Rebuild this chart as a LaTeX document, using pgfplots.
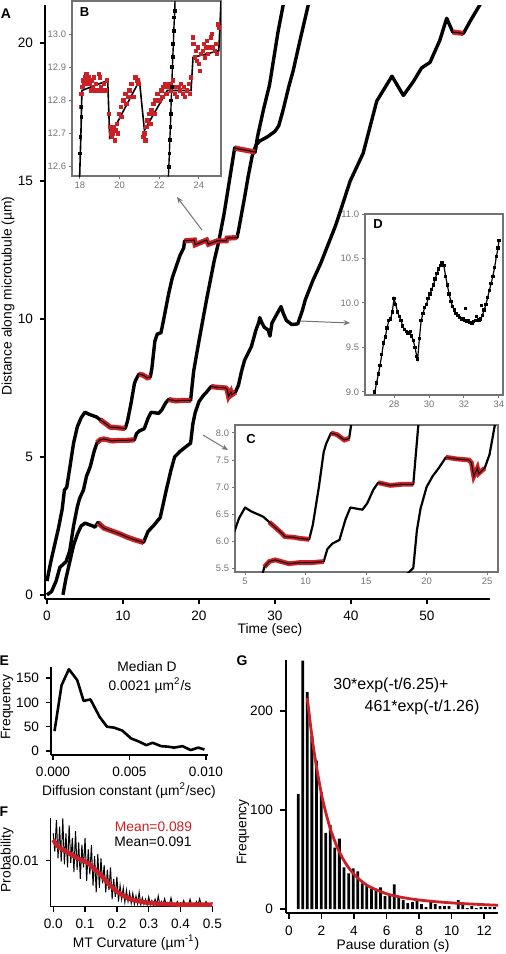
\documentclass[border=0pt]{standalone}
\usepackage{pgfplots}
\usepackage{pgfplotstable}
\pgfplotsset{compat=1.18}
\usepackage{fontspec}
\setmainfont{Liberation Sans}
\usetikzlibrary{arrows.meta}
\definecolor{myred}{RGB}{204,32,39}
\definecolor{igray}{RGB}{115,115,115}

\pgfplotstableread{
t y
0 0.5
0.5 1.2
1.0 1.8
1.5 2.4
2.0 3.1
2.3 3.8
2.6 3.9
3.0 4.6
3.5 5.5
4.0 6.1
4.5 6.42
5.0 6.62
5.5 6.55
6.0 6.5
6.5 6.45
7.0 6.35
7.5 6.25
8.0 6.15
8.3 6.08
9.0 6.07
9.5 6.05
10.3 6.03
10.6 6.3
11.1 7.0
11.5 7.65
11.7 7.8
12.1 8.0
12.6 7.97
13.2 7.87
13.6 7.9
13.8 8.2
14.2 9.2
14.5 9.45
15.0 9.5
15.3 9.9
16.0 10.9
16.5 11.5
17.0 11.9
17.5 12.3
18.0 12.58
18.1 12.83
19.4 12.86
19.5 12.69
21.0 12.86
21.25 12.71
22.4 12.83
23.6 12.83
23.7 12.93
25.0 12.95
25.2 13.2
25.6 13.8
26.0 14.4
26.5 15.2
27.0 15.9
27.5 16.3
28.0 16.45
29.0 16.6
30.0 16.8
30.5 17.0
31.1 17.6
31.8 18.4
32.4 19.0
33.3 20.1
34.4 21.4
35.0 22.1
}\trA

\pgfplotstableread{
t y
0 0
0.6 0.12
1.2 0.5
1.7 1.0
2.1 1.1
2.5 1.2
3.0 1.6
3.5 2.5
4.0 3.2
4.3 3.5
4.8 3.8
5.2 4.3
5.7 4.65
6.2 5.2
6.6 5.52
7.0 5.62
7.5 5.65
8.3 5.6
8.6 5.58
9.5 5.6
10.5 5.6
11.5 5.62
11.8 5.85
12.2 5.95
12.8 6.02
13.3 6.4
13.7 6.62
14.2 6.6
14.7 6.58
15.1 6.7
15.6 6.95
16.0 7.08
17.0 7.03
18.0 7.05
18.9 7.05
19.3 8.1
20.0 9.2
21.0 10.7
22.0 12.1
22.6 12.8
23.3 13.8
24.0 15.0
24.7 16.2
25.5 16.15
26.5 16.1
27.4 16.05
27.7 16.6
28.5 17.6
29.3 18.5
30.4 20.4
31.1 21.4
31.6 22.2
}\trB

\pgfplotstableread{
t y
2.1 0
2.5 0.6
3.0 1.2
3.5 1.8
4.0 2.2
4.5 2.5
5.0 2.6
5.5 2.55
6.0 2.5
6.3 2.45
6.7 2.62
7.5 2.42
8.5 2.32
9.5 2.22
10.5 2.1
11.5 2.0
12.7 1.9
13.0 2.1
13.3 2.3
14.0 2.5
14.9 2.8
15.7 3.8
16.3 4.5
16.8 5.0
17.5 5.2
18.2 5.35
18.9 5.5
19.2 6.2
19.5 6.6
20.0 7.0
20.5 7.2
21.0 7.35
21.6 7.55
22.5 7.52
23.5 7.5
23.7 7.45
23.9 7.2
24.2 7.35
24.3 7.25
24.8 7.35
25.2 7.6
25.6 8.1
26.0 8.5
26.9 9.0
27.2 9.3
27.5 9.6
27.9 9.9
28.0 10.05
28.3 9.85
28.6 9.7
29.1 9.6
29.35 9.38
29.6 9.85
30.2 10.15
30.8 10.45
31.1 10.2
31.5 9.95
32.2 9.8
33.0 9.82
33.6 10.3
34.0 10.7
35.0 11.4
36.0 12.0
37.0 12.7
38.0 13.4
38.6 13.9
39.9 15.0
41.6 16.0
43.4 17.9
45.4 18.8
46.9 18.1
48.2 18.6
49.3 19.1
50.4 19.3
51.7 20.1
52.6 20.9
53.4 20.4
54.8 20.35
55.7 20.8
57.0 21.4
57.5 21.7
}\trC

\pgfplotstableread{
t y
7.0 6.35
7.5 6.25
8.0 6.15
8.3 6.08
9.0 6.07
9.5 6.05
10.3 6.03
}\pAa
\pgfplotstableread{
t y
12.1 8.0
12.6 7.97
13.2 7.87
13.6 7.9
}\pAb
\pgfplotstableread{
t y
18.1 12.83
19.4 12.86
19.5 12.69
21.0 12.86
21.25 12.71
22.4 12.83
23.6 12.83
23.7 12.93
25.0 12.95
}\pAc
\pgfplotstableread{
t y
6.6 5.52
7.0 5.62
7.5 5.65
8.3 5.6
8.6 5.58
9.5 5.6
10.5 5.6
11.5 5.62
}\pBa
\pgfplotstableread{
t y
16.0 7.08
17.0 7.03
18.0 7.05
18.9 7.05
}\pBb
\pgfplotstableread{
t y
24.7 16.2
25.5 16.15
26.5 16.1
27.4 16.05
}\pBc
\pgfplotstableread{
t y
6.7 2.62
7.5 2.42
8.5 2.32
9.5 2.22
10.5 2.1
11.5 2.0
12.7 1.9
}\pCa
\pgfplotstableread{
t y
21.6 7.55
22.5 7.52
23.5 7.5
23.7 7.45
23.9 7.2
24.2 7.35
24.3 7.25
24.8 7.35
}\pCb
\pgfplotstableread{
t y
53.4 20.4
54.8 20.35
}\pCc

\pgfplotstableread{
t y
18.05 12.78
18.08 12.82
18.12 12.84
18.16 12.86
18.2 12.85
18.24 12.87
18.28 12.86
18.32 12.88
18.36 12.85
18.4 12.86
18.45 12.87
18.5 12.85
18.55 12.83
18.6 12.86
18.65 12.84
18.7 12.87
18.75 12.83
18.8 12.85
18.9 12.83
18.95 12.88
19.0 12.87
19.05 12.84
19.1 12.83
19.2 12.85
19.3 12.83
19.35 12.86
19.45 12.76
19.5 12.72
19.55 12.70
19.6 12.71
19.62 12.69
19.66 12.70
19.7 12.72
19.75 12.68
19.8 12.71
19.85 12.73
19.9 12.70
19.95 12.76
20.05 12.78
20.1 12.75
20.2 12.8
20.3 12.82
20.35 12.79
20.45 12.81
20.5 12.83
20.6 12.85
20.7 12.81
20.8 12.87
20.9 12.86
20.95 12.85
21.2 12.69
21.25 12.70
21.3 12.68
21.35 12.72
21.4 12.74
21.5 12.76
21.55 12.73
21.6 12.77
21.7 12.79
21.75 12.76
21.8 12.8
21.9 12.82
22.0 12.8
22.1 12.83
22.15 12.81
22.2 12.84
22.3 12.85
22.35 12.82
22.45 12.84
22.55 12.85
22.6 12.83
22.7 12.86
22.8 12.82
22.85 12.84
22.9 12.81
23.0 12.84
23.05 12.83
23.1 12.85
23.2 12.82
23.25 12.84
23.3 12.81
23.4 12.83
23.5 12.85
23.55 12.82
23.6 12.87
23.7 12.99
23.72 12.97
23.78 12.93
23.85 12.95
23.9 12.92
23.95 12.96
24.0 12.91
24.05 12.89
24.1 12.94
24.2 12.95
24.25 12.97
24.3 12.93
24.35 12.96
24.4 12.98
24.45 12.94
24.5 12.96
24.6 12.99
24.65 13.0
24.7 12.96
24.8 12.95
24.85 12.97
24.9 12.94
24.95 13.03
25.0 13.02
}\redB

\pgfplotstableread{
t y
26.9 9.0
27.0 9.1
27.1 9.2
27.2 9.3
27.3 9.42
27.4 9.55
27.5 9.62
27.6 9.72
27.7 9.8
27.8 9.82
27.9 9.9
28.0 10.05
28.1 9.98
28.2 9.9
28.3 9.85
28.4 9.8
28.5 9.74
28.6 9.7
28.7 9.68
28.8 9.66
28.9 9.67
29.0 9.63
29.1 9.58
29.2 9.5
29.3 9.4
29.35 9.37
29.45 9.6
29.55 9.8
29.65 9.88
29.75 9.95
29.85 9.98
29.95 10.05
30.05 10.1
30.15 10.15
30.25 10.2
30.35 10.27
30.45 10.33
30.55 10.38
30.65 10.42
30.75 10.45
30.85 10.42
30.95 10.3
31.05 10.2
31.15 10.1
31.25 10.02
31.35 9.96
31.45 9.92
31.55 9.88
31.65 9.86
31.75 9.84
31.85 9.82
31.95 9.82
32.05 9.8
32.15 9.79
32.25 9.8
32.35 9.78
32.45 9.77
32.55 9.79
32.65 9.8
32.75 9.8
32.85 9.81
32.95 9.82
33.05 9.86
33.15 9.92
33.25 9.98
33.35 10.06
33.45 10.14
33.55 10.22
33.65 10.3
33.75 10.4
33.85 10.52
33.95 10.62
34.0 10.7
}\trD

\pgfplotstableread{
x y
0.0001 41
0.00056 135
0.00104 168
0.00158 146
0.0020 103
0.00245 106
0.00305 70
0.00353 50
0.0040 48
0.00453 42
0.0051 26
0.00565 19
0.0061 12
0.00651 17
0.00706 10
0.0075 9
0.00792 7
0.00846 10
0.0090 2
0.0095 7
0.0099 3
}\tabE

\pgfplotstableread{
x y
0.000 0.0160
0.005 0.0120
0.010 0.0190
0.015 0.0105
0.020 0.0175
0.025 0.0098
0.030 0.0193
0.035 0.0092
0.040 0.0160
0.045 0.0085
0.050 0.0178
0.055 0.0095
0.060 0.0150
0.065 0.0075
0.070 0.0165
0.075 0.0080
0.080 0.0140
0.085 0.0060
0.090 0.0135
0.095 0.0085
0.100 0.0150
0.105 0.0055
0.110 0.0125
0.115 0.0070
0.120 0.0135
0.125 0.0045
0.130 0.0110
0.135 0.0030
0.140 0.0115
0.145 0.0040
0.150 0.0105
0.155 0.0050
0.160 0.0090
0.165 0.0030
0.170 0.0080
0.175 0.0035
0.180 0.0085
0.185 0.0015
0.190 0.0060
0.195 0.0020
0.200 0.0065
0.205 0.0010
0.210 0.0045
0.215 0.0015
0.220 0.0040
0.225 0.0008
0.230 0.0035
0.235 0.0010
0.240 0.0030
0.245 0.0006
0.250 0.0028
0.255 0.0004
0.260 0.0022
0.265 0.0005
0.270 0.0030
0.275 0.0003
0.280 0.0018
0.285 0.0004
0.290 0.0015
0.295 0.0002
0.300 0.0020
0.305 0.0003
0.310 0.0012
0.315 0.0002
0.320 0.0015
0.325 0.0003
0.330 0.0022
0.335 0.0002
0.340 0.0010
0.345 0.0003
0.350 0.0016
0.355 0.0002
0.360 0.0008
0.365 0.0003
0.370 0.0018
0.375 0.0002
0.380 0.0006
0.385 0.0003
0.390 0.0010
0.395 0.0002
0.400 0.0007
0.405 0.0003
0.410 0.0012
0.415 0.0002
0.420 0.0005
0.425 0.0003
0.430 0.0015
0.435 0.0002
0.440 0.0006
0.445 0.0003
0.450 0.0010
0.455 0.0002
0.460 0.0016
0.465 0.0003
0.470 0.0006
0.475 0.0002
0.480 0.0010
0.485 0.0003
0.490 0.0005
0.495 0.0002
0.500 0.0008
}\tabFblack

\pgfplotstableread{
x y
0.000 0.0146
0.010 0.0136
0.020 0.0128
0.030 0.0124
0.040 0.0120
0.050 0.0116
0.060 0.0112
0.070 0.0108
0.080 0.0104
0.090 0.0101
0.100 0.0098
0.110 0.0094
0.120 0.0088
0.130 0.0081
0.140 0.0074
0.150 0.0068
0.160 0.0060
0.170 0.0052
0.180 0.0045
0.190 0.0038
0.200 0.0032
0.220 0.0023
0.240 0.0016
0.260 0.0012
0.280 0.0009
0.300 0.0007
0.330 0.0005
0.360 0.0004
0.400 0.0003
0.450 0.0003
0.500 0.0003
}\tabFred

\pgfplotstableread{
t h
0.57 116
0.85 251
1.13 219
1.41 175
1.69 150
1.98 118
2.26 77
2.54 85
2.82 62
3.10 71
3.39 42
3.67 36
3.95 41
4.23 38
4.51 26
4.79 24
5.07 21
5.35 19
5.63 22
5.91 13
6.19 14
6.47 25
6.75 13
7.03 9
7.31 6
7.59 7
7.87 9
8.15 5
8.43 2
8.72 9
9.00 5
9.28 3
9.56 3
9.84 3
10.12 0
10.40 9
10.68 4
10.96 1
11.24 3
11.52 1
11.80 2
12.08 2
12.36 2
12.64 2
}\tabG

\pgfplotstableread{
t y
1.13 213.1
1.5 163.8
2.0 116.1
2.5 83.5
3.0 61.2
3.5 45.8
4.0 35.1
4.5 27.6
5.0 22.2
6.0 15.4
7.0 11.6
8.0 9.15
9.0 7.48
10.0 6.23
11.0 5.24
12.0 4.43
13.0 3.76
}\fitG

\begin{document}
\begin{tikzpicture}
\useasboundingbox (0pt,0pt) rectangle (253pt,-477pt);
\pgfplotsset{
 every axis/.append style={
   scale only axis, anchor=north west,
   font=\fontsize{6.8}{8}\selectfont,
   /pgf/number format/assume math mode=true,
   tick align=outside, tick pos=left,
   axis line style={line width=0.7pt},
   tick style={line width=0.7pt, black},
   major tick length=2.5pt,
 },
 trace/.style={black, line width=1.7pt, line join=round, no marks},
 pause/.style={myred, line width=2.6pt, no marks},
 fitl/.style={black, line width=0.5pt, no marks},
 ctrace/.style={black, line width=1.1pt, line join=round, no marks},
 cpause/.style={myred, line width=2.4pt, no marks},
 inset/.style={axis background/.style={fill=white},
   axis line style={igray, line width=0.6pt},
   tick style={igray, line width=0.5pt},
   major tick length=1.5pt,
   tick label style={font=\fontsize{4.7}{5}\selectfont, text=igray, inner sep=1.3pt}},
}

% ---------- Panel A ----------
\begin{axis}[at={(22.5pt,-2.5pt)}, width=222.5pt, height=297pt,
  xmin=-0.26, xmax=58.3, ymin=-0.15, ymax=21.38,
  axis lines*=left, axis line style={-},
  xtick={0,10,20,30,40,50}, ytick={0,5,10,15,20}]
\addplot[trace] table[x=t,y=y]{\trA};
\addplot[trace] table[x=t,y=y]{\trB};
\addplot[trace] table[x=t,y=y]{\trC};
\addplot[pause] table[x=t,y=y]{\pAa};
\addplot[fitl] table[x=t,y=y]{\pAa};
\addplot[pause] table[x=t,y=y]{\pAb};
\addplot[fitl] table[x=t,y=y]{\pAb};
\addplot[pause] table[x=t,y=y]{\pAc};
\addplot[fitl] table[x=t,y=y]{\pAc};
\addplot[pause] table[x=t,y=y]{\pBa};
\addplot[fitl] table[x=t,y=y]{\pBa};
\addplot[pause] table[x=t,y=y]{\pBb};
\addplot[fitl] table[x=t,y=y]{\pBb};
\addplot[pause] table[x=t,y=y]{\pBc};
\addplot[fitl] table[x=t,y=y]{\pBc};
\addplot[pause] table[x=t,y=y]{\pCa};
\addplot[fitl] table[x=t,y=y]{\pCa};
\addplot[pause] table[x=t,y=y]{\pCb};
\addplot[fitl] table[x=t,y=y]{\pCb};
\addplot[pause] table[x=t,y=y]{\pCc};
\addplot[fitl] table[x=t,y=y]{\pCc};
\end{axis}

% ---------- Inset B ----------
\begin{axis}[inset, at={(36pt,-0.5pt)}, width=74.5pt, height=87.5pt,
  xmin=17.6, xmax=25.11, ymin=12.572, ymax=13.1,
  xtick={18,20,22,24}, ytick={12.6,12.7,12.8,12.9,13.0},
  yticklabel style={/pgf/number format/.cd, fixed, fixed zerofill, precision=1}]
\addplot[only marks, mark=square*, mark size=0.85pt, myred] table[x=t,y=y]{\redB};
\addplot[black, line width=0.8pt] coordinates {(17.95,12.5) (18.0,12.6) (18.05,12.7) (18.1,12.83) (19.4,12.86) (19.5,12.69) (21.0,12.86) (21.25,12.71) (22.4,12.83) (23.6,12.83) (23.7,12.93) (25.0,12.95) (25.15,13.15)};
\addplot[black, only marks, mark=square*, mark size=0.6pt] coordinates {(18.0,12.64) (18.03,12.69) (18.06,12.75) (18.08,12.78)};
\addplot[black, line width=0.7pt, mark=square*, mark size=0.6pt] coordinates {(22.46,12.57) (22.48,12.6) (22.51,12.64) (22.53,12.68) (22.56,12.72) (22.58,12.76) (22.6,12.8) (22.63,12.84) (22.66,12.9) (22.68,12.93) (22.71,12.97) (22.73,13.01) (22.76,13.05) (22.78,13.07) (22.8,13.12)};
\end{axis}

% ---------- Inset D ----------
\begin{axis}[inset, at={(182.5pt,-107pt)}, width=69pt, height=90.5pt,
  xmin=26.34, xmax=34.23, ymin=8.966, ymax=11.0,
  xtick={28,30,32,34}, ytick={9.0,9.5,10.0,10.5,11.0},
  yticklabel style={/pgf/number format/.cd, fixed, fixed zerofill, precision=1}]
\addplot[black, line width=0.6pt, mark=square*, mark size=0.55pt] table[x=t,y=y]{\trD};
\addplot[black, only marks, mark=square*, mark size=0.55pt] coordinates {(32.1,9.94) (33.0,9.97) (32.7,9.85) (28.95,9.68)};
\end{axis}

% ---------- Inset C ----------
\begin{axis}[inset, at={(117.5pt,-212.5pt)}, width=131.5pt, height=73.5pt,
  xmin=4.17, xmax=25.9, ymin=5.426, ymax=8.148,
  xtick={5,10,15,20,25}, ytick={5.5,6.0,6.5,7.0,7.5,8.0},
  yticklabel style={/pgf/number format/.cd, fixed, fixed zerofill, precision=1}]
\addplot[ctrace] table[x=t,y=y]{\trA};
\addplot[ctrace] table[x=t,y=y]{\trB};
\addplot[ctrace] table[x=t,y=y]{\trC};
\addplot[cpause] table[x=t,y=y]{\pAa};
\addplot[fitl] table[x=t,y=y]{\pAa};
\addplot[cpause] table[x=t,y=y]{\pAb};
\addplot[fitl] table[x=t,y=y]{\pAb};
\addplot[cpause] table[x=t,y=y]{\pBa};
\addplot[fitl] table[x=t,y=y]{\pBa};
\addplot[cpause] table[x=t,y=y]{\pBb};
\addplot[fitl] table[x=t,y=y]{\pBb};
\addplot[cpause] table[x=t,y=y]{\pCb};
\addplot[fitl] table[x=t,y=y]{\pCb};
\end{axis}

% ---------- Panel E ----------
\begin{axis}[at={(25.5pt,-333.5pt)}, width=78.25pt, height=44pt,
  xmin=-0.00013, xmax=0.0101, ymin=-8.2, ymax=172.6,
  axis lines*=left, axis line style={-},
  xtick={0,0.005,0.01}, xticklabels={0.000,0.005,0.010}, scaled x ticks=false,
  ytick={0,50,100,150}]
\addplot[black, line width=1.3pt, line join=round] table[x=x,y=y]{\tabE};
\end{axis}

% ---------- Panel F ----------
\begin{axis}[at={(25.35pt,-409pt)}, width=81.15pt, height=44.35pt,
  xmin=-0.008, xmax=0.502, ymin=-0.00015, ymax=0.0194,
  axis lines*=left, axis line style={-},
  xtick={0,0.1,0.2,0.3,0.4,0.5}, xticklabels={0.0,0.1,0.2,0.3,0.4,0.5},
  ytick={0.01}, yticklabels={0.01}, scaled y ticks=false, scaled x ticks=false]
\addplot[black, line width=0.5pt] table[x=x,y=y]{\tabFblack};
\addplot[myred, line width=2.2pt, smooth] table[x=x,y=y]{\tabFred};
\end{axis}

% ---------- Panel G ----------
\begin{axis}[at={(143pt,-330pt)}, width=106pt, height=126.5pt,
  xmin=-0.18, xmax=12.85, ymin=-4, ymax=251.5,
  axis lines*=left, axis line style={-}, major tick length=3pt,
  xtick={0,2,4,6,8,10,12}, ytick={0,100,200}]
\addplot[ybar, bar width=0.17, fill=black, draw=none] table[x=t,y=h]{\tabG};
\addplot[myred, line width=1.4pt, smooth] table[x=t,y=y]{\fitG};
\end{axis}

% ---------- arrows ----------
\draw[igray, line width=0.5pt, -{Stealth[length=3.2pt,width=2.6pt]}] (101pt,-115pt) -- (88.5pt,-98.5pt);
\draw[igray, line width=0.5pt, -{Stealth[length=3.2pt,width=2.6pt]}] (150pt,-160.5pt) -- (175pt,-161.5pt);
\draw[igray, line width=0.5pt, -{Stealth[length=3.2pt,width=2.6pt]}] (101.5pt,-217.5pt) -- (114pt,-225pt);

% ---------- text ----------
\begin{scope}[every node/.style={inner sep=0pt}]
\node[font=\fontsize{7}{8}\selectfont\bfseries] at (3pt,-6.75pt) {A};
\node[font=\fontsize{6.5}{7}\selectfont\bfseries] at (42.25pt,-6.25pt) {B};
\node[font=\fontsize{6.5}{7}\selectfont\bfseries] at (189pt,-112pt) {D};
\node[font=\fontsize{6.5}{7}\selectfont\bfseries] at (125.5pt,-219.5pt) {C};
\node[font=\fontsize{7}{8}\selectfont\bfseries] at (2.2pt,-330.5pt) {E};
\node[font=\fontsize{7}{8}\selectfont\bfseries] at (2pt,-406pt) {F};
\node[font=\fontsize{7}{8}\selectfont\bfseries] at (121pt,-330.5pt) {G};

\node[font=\fontsize{6.9}{8}\selectfont, rotate=90] at (4pt,-148pt) {Distance along microtubule (µm)};
\node[font=\fontsize{6.9}{8}\selectfont] at (135pt,-315pt) {Time (sec)};

\node[font=\fontsize{6.9}{8}\selectfont] at (73.5pt,-333.5pt) {Median D};
\node[font=\fontsize{6.9}{8}\selectfont] at (75pt,-343pt) {0.0021 µm\textsuperscript{2}/s};
\node[font=\fontsize{6.9}{8}\selectfont, rotate=90] at (3.5pt,-353.5pt) {Frequency};
\node[font=\fontsize{6.9}{8}\selectfont] at (64.5pt,-395.5pt) {Diffusion constant (µm\textsuperscript{2}/sec)};

\node[font=\fontsize{6.9}{8}\selectfont, text=myred] at (76.75pt,-413.5pt) {Mean=0.089};
\node[font=\fontsize{6.9}{8}\selectfont] at (76.5pt,-421pt) {Mean=0.091};
\node[font=\fontsize{6.9}{8}\selectfont, rotate=90] at (3.5pt,-430pt) {Probability};
\node[font=\fontsize{6.9}{8}\selectfont] at (68pt,-471.5pt) {MT Curvature (µm\textsuperscript{-1})};

\node[font=\fontsize{6.9}{8}\selectfont, rotate=90] at (121.5pt,-416pt) {Frequency};
\node[font=\fontsize{8}{9}\selectfont] at (195.5pt,-342.5pt) {30*exp(-t/6.25)+};
\node[font=\fontsize{8}{9}\selectfont] at (211pt,-353.5pt) {461*exp(-t/1.26)};
\node[font=\fontsize{6.9}{8}\selectfont] at (196.5pt,-473pt) {Pause duration (s)};
\end{scope}
\end{tikzpicture}
\end{document}
